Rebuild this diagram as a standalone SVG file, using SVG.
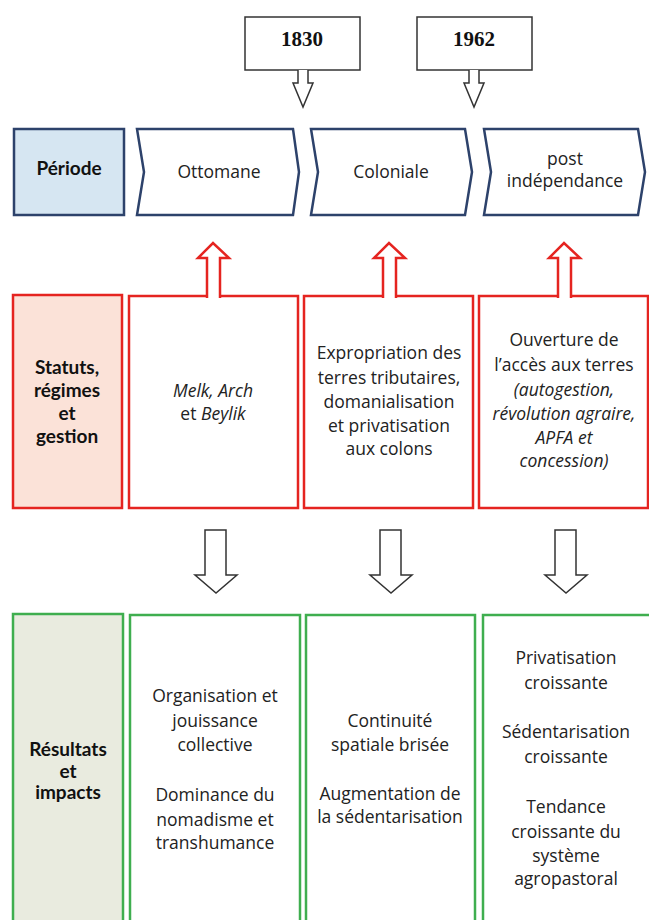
<svg xmlns="http://www.w3.org/2000/svg" width="649" height="920" viewBox="0 0 649 920">
<style>
.bg{fill:#ffffff}
.date{fill:#ffffff;stroke:#333333;stroke-width:1.5}
.datet{font-family:"Liberation Serif",serif;font-weight:bold;font-size:21px;fill:#111;text-anchor:middle}
.per{fill:#ffffff;stroke:#2d426b;stroke-width:2.5;stroke-linejoin:miter}
.perl{fill:#d6e6f2;stroke:#2d426b;stroke-width:2.5}
.red{fill:#ffffff;stroke:#e52420;stroke-width:2.5}
.redl{fill:#fbe2d8;stroke:#e52420;stroke-width:2.5}
.grn{fill:#ffffff;stroke:#3fae4f;stroke-width:2.5}
.grnl{fill:#e9ebdf;stroke:#3fae4f;stroke-width:2.5}
.t{font-family:"Open Sans","DejaVu Sans",sans-serif;font-size:17.5px;fill:#222;text-anchor:middle}
.i{font-style:italic}
.lab{font-family:Lato,"Open Sans",sans-serif;font-weight:bold;font-size:19px;fill:#111;text-anchor:middle}
.redarrow{fill:#ffffff;stroke:#e52420;stroke-width:2.5;stroke-linejoin:miter}
.blkarrow{fill:#ffffff;stroke:#333333;stroke-width:1.5;stroke-linejoin:miter}
</style>
<rect class="bg" x="0" y="0" width="649" height="920"/>

<g id="date-1830">
<rect class="date" x="245" y="17" width="115" height="53"/>
<text class="datet" x="302" y="46">1830</text>
</g>
<g id="date-1962">
<rect class="date" x="417" y="17" width="115" height="53"/>
<text class="datet" x="474" y="46">1962</text>
</g>

<g id="periode">
<rect class="perl" x="14" y="129" width="110" height="86"/>
<text class="lab" x="69" y="175">Période</text>
</g>
<g id="ottomane">
<polygon class="per" points="137,129 293,129 299,172 293,215 137,215 144,172"/>
<text class="t" x="219" y="178">Ottomane</text>
</g>
<g id="coloniale">
<polygon class="per" points="311,129 465,129 472,172 465,215 311,215 318,172"/>
<text class="t" x="391" y="178">Coloniale</text>
</g>
<g id="post">
<polygon class="per" points="484,129 638,129 645,172 638,215 484,215 491,172"/>
<text class="t" x="565" y="165">post</text>
<text class="t" x="565" y="187">indépendance</text>
</g>

<g id="statuts">
<rect class="redl" x="13" y="295" width="109" height="213"/>
<text class="lab" x="67" y="374">Statuts,</text>
<text class="lab" x="67" y="397">régimes</text>
<text class="lab" x="67" y="420">et</text>
<text class="lab" x="67" y="443">gestion</text>
</g>
<g id="statut-ottomane">
<rect class="red" x="129" y="296" width="169" height="212"/>
<text class="t" x="213" y="397"><tspan class="i">Melk, Arch</tspan></text>
<text class="t" x="213" y="420">et <tspan class="i">Beylik</tspan></text>
</g>
<g id="statut-coloniale">
<rect class="red" x="304" y="296" width="169" height="212"/>
<text class="t" x="389" y="359">Expropriation des</text>
<text class="t" x="389" y="384">terres tributaires,</text>
<text class="t" x="389" y="408">domanialisation</text>
<text class="t" x="389" y="432">et privatisation</text>
<text class="t" x="389" y="455">aux colons</text>
</g>
<g id="statut-post">
<rect class="red" x="479" y="296" width="169" height="212"/>
<text class="t" x="564" y="346">Ouverture de</text>
<text class="t" x="564" y="371">l’accès aux terres</text>
<text class="t i" x="564" y="396">(autogestion,</text>
<text class="t i" x="564" y="420">révolution agraire,</text>
<text class="t i" x="564" y="444">APFA et</text>
<text class="t i" x="564" y="467">concession)</text>
</g>

<g id="resultats">
<rect class="grnl" x="13" y="614" width="110" height="312"/>
<text class="lab" x="68" y="756">Résultats</text>
<text class="lab" x="68" y="778">et</text>
<text class="lab" x="68" y="799">impacts</text>
</g>
<g id="res-ottomane">
<rect class="grn" x="130" y="615" width="170" height="311"/>
<text class="t" x="215" y="702">Organisation et</text>
<text class="t" x="215" y="727">jouissance</text>
<text class="t" x="215" y="751">collective</text>
<text class="t" x="215" y="801">Dominance du</text>
<text class="t" x="215" y="826">nomadisme et</text>
<text class="t" x="215" y="849">transhumance</text>
</g>
<g id="res-coloniale">
<rect class="grn" x="306" y="615" width="169" height="311"/>
<text class="t" x="390" y="727">Continuité</text>
<text class="t" x="390" y="751">spatiale brisée</text>
<text class="t" x="390" y="800">Augmentation de</text>
<text class="t" x="390" y="823">la sédentarisation</text>
</g>
<g id="res-post">
<rect class="grn" x="483" y="615" width="170" height="311"/>
<text class="t" x="566" y="664">Privatisation</text>
<text class="t" x="566" y="689">croissante</text>
<text class="t" x="566" y="738">Sédentarisation</text>
<text class="t" x="566" y="763">croissante</text>
<text class="t" x="566" y="813">Tendance</text>
<text class="t" x="566" y="838">croissante du</text>
<text class="t" x="566" y="862">système</text>
<text class="t" x="566" y="885">agropastoral</text>
</g>

<g id="connectors">
<path class="blkarrow" d="M298,70 V83 H293 L303,107 L313,83 H308 V70"/>
<path class="blkarrow" d="M469,70 V83 H464 L474,107 L484,83 H479 V70"/>
<path class="redarrow" d="M207,298 V258 H198 L213,243 L229,258 H220 V298"/>
<path class="redarrow" d="M383,298 V258 H374 L389,243 L405,258 H396 V298"/>
<path class="redarrow" d="M558,298 V258 H549 L564,243 L580,258 H571 V298"/>
<path class="blkarrow" d="M205,530 H226 V575 H237 L216,593 L195,575 H205 Z"/>
<path class="blkarrow" d="M380,530 H401 V575 H412 L391,593 L370,575 H380 Z"/>
<path class="blkarrow" d="M555,530 H576 V575 H587 L566,593 L545,575 H555 Z"/>
</g>
</svg>
